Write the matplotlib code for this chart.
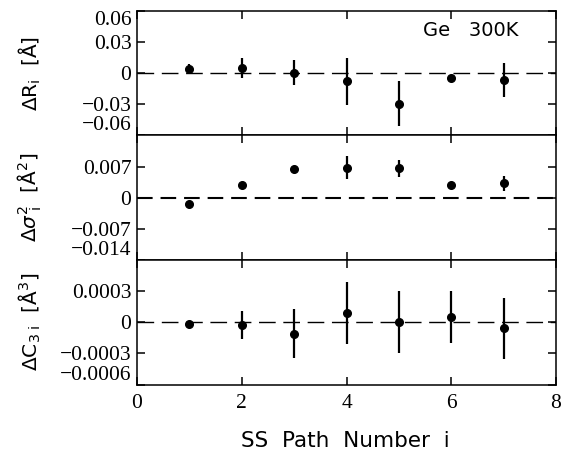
import matplotlib
matplotlib.use("Agg")
import matplotlib.pyplot as plt

# SS path numbers and fitted deviations
paths = [1, 2, 3, 4, 5, 6, 7]

dR = [0.004, 0.005, 0.0005, -0.0078, -0.0292, -0.0046, -0.0062]
dR_err = [0.005, 0.0098, 0.012, 0.0225, 0.022, 0.0015, 0.0163]

dS2 = [-0.00136, 0.0028, 0.00655, 0.0068, 0.0066, 0.0028, 0.0033]
dS2_err = [0.0, 0.0, 0.0, 0.0025, 0.002, 0.0008, 0.0017]

dC3 = [-0.000016, -0.000027, -0.00011, 0.00009, 0.0, 0.00005, -0.00006]
dC3_err = [0.00002, 0.000135, 0.000235, 0.0003, 0.0003, 0.00025, 0.00029]

panels = [
    dict(y=dR, e=dR_err, lim=0.06, zlw=1.0, dash=(0, (12, 5.5)),
         ticks=[-0.06, -0.03, 0, 0.03, 0.06],
         labels=["\u22120.06", "\u22120.03", "0", "0.03", "0.06"],
         ylabel=r"$\Delta$R$_\mathregular{i}$  [Å]"),
    dict(y=dS2, e=dS2_err, lim=0.014, zlw=1.5, dash=(0, (7.5, 3.8)),
         ticks=[-0.014, -0.007, 0, 0.007],
         labels=["\u22120.014", "\u22120.007", "0", "0.007"],
         ylabel=r"$\Delta\sigma^\mathregular{2}_{\ \mathregular{i}}$  [Å$^\mathregular{2}$]"),
    dict(y=dC3, e=dC3_err, lim=0.0006, zlw=1.0, dash=(0, (12, 5.5)),
         ticks=[-0.0006, -0.0003, 0, 0.0003],
         labels=["\u22120.0006", "\u22120.0003", "0", "0.0003"],
         ylabel=r"$\Delta$C$_\mathregular{3\ i}$  [Å$^\mathregular{3}$]"),
]

fig = plt.figure(figsize=(5.76, 4.54), dpi=100)
left, width = 137 / 576, (556 - 137) / 576
h = 124.5 / 454
tops = [11, 135.5, 260]
serif = "Liberation Serif"

for k, p in enumerate(panels):
    bottom = 1 - (tops[k] + 124.5) / 454
    ax = fig.add_axes([left, bottom, width, h])
    ax.axhline(0, color="black", lw=p["zlw"], ls=p["dash"], zorder=1)
    ax.errorbar(paths, p["y"], yerr=p["e"], fmt="o", color="black",
                ms=5.5, elinewidth=1.6, capsize=0, zorder=3)
    ax.set_xlim(0, 8)
    ax.set_ylim(-p["lim"], p["lim"])
    ax.set_xticks([0, 2, 4, 6, 8])
    ax.set_yticks(p["ticks"])
    ax.set_yticklabels(p["labels"], fontfamily=serif, fontsize=15.5)
    ax.tick_params(direction="in", length=6, width=1.1, top=True, right=True,
                   pad=4)
    for s in ax.spines.values():
        s.set_linewidth(1.1)
    tl = ax.get_yticklabels()
    tl[0].set_va("bottom")
    if k == 0:
        tl[-1].set_va("top")
    if k < 2:
        ax.tick_params(labelbottom=False)
    else:
        ax.set_xticklabels(["0", "2", "4", "6", "8"], fontfamily=serif,
                           fontsize=15.5)
        ax.tick_params(axis="x", pad=7)
    fig.text(0.052, bottom + h / 2, p["ylabel"], rotation=90, ha="center",
             va="center", fontsize=14.5)
    if k == 0:
        ax.text(0.91, 0.84, "Ge   300K", transform=ax.transAxes, ha="right",
                va="center", fontsize=14)

fig.text(0.6, 1 - 441 / 454, "SS  Path  Number  i", ha="center", va="center",
         fontsize=15.5)

fig.savefig("out.png", dpi=100, facecolor="white")
